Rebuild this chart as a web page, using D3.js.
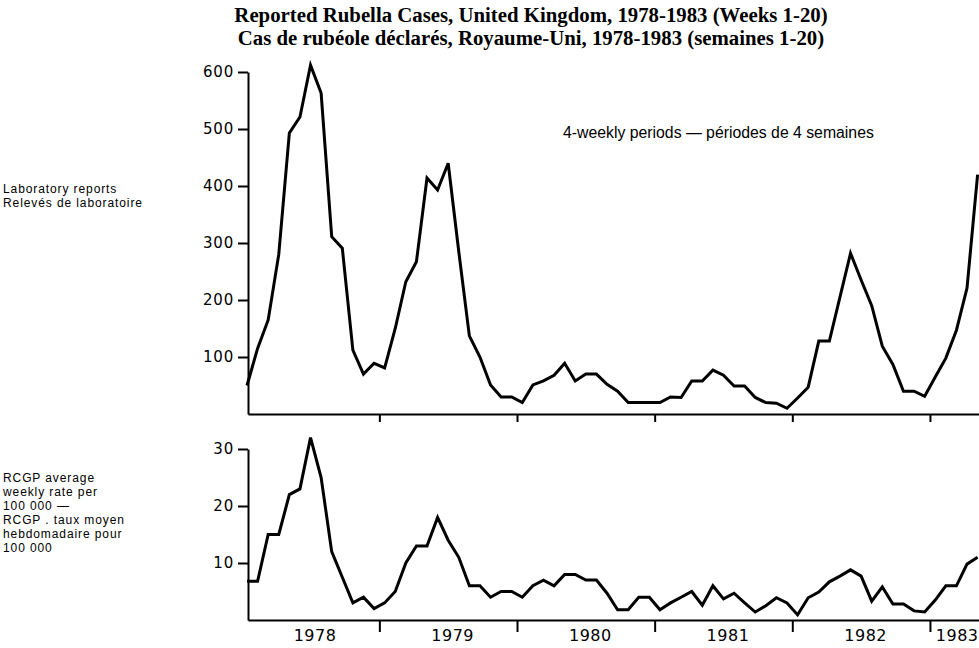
<!DOCTYPE html>
<html>
<head>
<meta charset="utf-8">
<script src="https://cdn.jsdelivr.net/npm/d3@7"></script>
<style>
  body { margin: 0; background: #fff; }
  svg { display: block; }
  .title { font-family: "Liberation Serif", "Times New Roman", serif; font-weight: bold; font-size: 20.8px; }
  .side { font-family: "Liberation Sans", Arial, sans-serif; font-size: 12px; letter-spacing: 0.9px; }
  .note { font-family: "Liberation Sans", Arial, sans-serif; font-size: 15.8px; }
  .axis text { font-family: "DejaVu Sans", sans-serif; font-size: 15px; letter-spacing: 0.8px; fill: #000; }
  .years text { font-size: 16px; letter-spacing: 0.5px; }
</style>
</head>
<body>
<script>
// 4-weekly periods, 13 a year, 1978 period 1 .. 1983 period 5
const years = ["1978", "1979", "1980", "1981", "1982", "1983"];
const periodsPerYear = [13, 13, 13, 13, 13, 5];

// laboratory reports
const labReports = [50, 115, 165, 280, 493, 521, 612, 563, 311, 291, 112, 70, 89,
  81, 150, 232, 267, 414, 393, 440, 285, 137, 100, 51, 30, 30,
  20, 51, 58, 68, 89, 58, 70, 70, 52, 40, 20, 20, 20,
  20, 30, 29, 58, 58, 77, 68, 49, 49, 29, 20, 19, 10,
  28, 47, 128, 128, 205, 282, 235, 190, 119, 87, 40, 40, 31,
  65, 98, 147, 221, 420];

// RCGP average weekly rate per 100 000
const rcgpRate = [6.8, 6.8, 15, 15, 22, 23, 32, 25, 12, 7.5, 3, 4, 2,
  3, 5, 10, 13, 13, 18, 14, 11, 6, 6, 4, 5, 5,
  4, 6, 7, 6, 8, 8, 7, 7, 4.7, 1.8, 1.8, 4, 4,
  1.8, 3, 4, 5, 2.6, 6, 3.7, 4.7, 3, 1.4, 2.5, 3.9, 3, 0.9,
  3.9, 4.9, 6.7, 7.7, 8.8, 7.7, 3.3, 5.8, 2.8, 2.8, 1.6, 1.4,
  3.5, 6, 6, 9.8, 11];

const labTicks = [100, 200, 300, 400, 500, 600];
const rcgpTicks = [10, 20, 30];

const width = 979, height = 648;
const svg = d3.select("body").append("svg")
    .attr("width", width)
    .attr("height", height);

// period index -> x
const x = d3.scaleLinear().domain([0, labReports.length - 1]).range([247, 977.6]);
const xAxisScale = x.copy().domain([x.invert(248), x.invert(979)]).range([248, 979]);

// year boundaries and centres in period units
let start = 0;
const boundaries = [], centres = [];
periodsPerYear.forEach((n, i) => {
    centres.push(start + (n - 1) / 2);
    start += n;
    if (i < periodsPerYear.length - 1) boundaries.push(start - 0.5);
});

const yTop = d3.scaleLinear().domain([0, 600]).range([414, 72]);
const yBot = d3.scaleLinear().domain([0, 30]).range([620, 449]);

// titles
svg.append("text").attr("class", "title")
    .attr("x", 531).attr("y", 22).attr("text-anchor", "middle")
    .text("Reported Rubella Cases, United Kingdom, 1978-1983 (Weeks 1-20)");
svg.append("text").attr("class", "title")
    .attr("x", 531).attr("y", 45).attr("text-anchor", "middle")
    .text("Cas de rubéole déclarés, Royaume-Uni, 1978-1983 (semaines 1-20)");

// side labels
const sideTop = ["Laboratory reports", "Relevés de laboratoire"];
const sideBot = ["RCGP average", "weekly rate per", "100 000 \u2014", "RCGP . taux moyen", "hebdomadaire pour", "100 000"];
svg.append("text").attr("class", "side")
    .selectAll("tspan").data(sideTop).join("tspan")
    .attr("x", 3).attr("y", (d, i) => 193 + i * 14).text(d => d);
svg.append("text").attr("class", "side")
    .selectAll("tspan").data(sideBot).join("tspan")
    .attr("x", 3).attr("y", (d, i) => 482 + i * 14).text(d => d);

svg.append("text").attr("class", "note")
    .attr("x", 563).attr("y", 138)
    .text("4-weekly periods \u2014 périodes de 4 semaines");

function styleAxis(g) {
    g.selectAll("path, line").attr("stroke", "#000").attr("stroke-width", 2);
}

// top panel axes
svg.append("g").attr("class", "axis")
    .attr("transform", "translate(248,0)")
    .call(d3.axisLeft(yTop).tickValues(labTicks).tickSize(10).tickSizeOuter(0).tickPadding(4))
    .call(styleAxis);
svg.append("g").attr("class", "axis")
    .attr("transform", "translate(0,414)")
    .call(d3.axisBottom(xAxisScale).tickValues(boundaries).tickSize(8).tickSizeOuter(0).tickFormat(""))
    .call(styleAxis);

// bottom panel axes
svg.append("g").attr("class", "axis")
    .attr("transform", "translate(248,0)")
    .call(d3.axisLeft(yBot).tickValues(rcgpTicks).tickSize(10).tickSizeOuter(0).tickPadding(4))
    .call(styleAxis);
svg.append("g").attr("class", "axis")
    .attr("transform", "translate(0,620)")
    .call(d3.axisBottom(xAxisScale).tickValues(boundaries).tickSize(12).tickSizeOuter(0).tickFormat(""))
    .call(styleAxis);
const yearAxis = svg.append("g").attr("class", "axis years")
    .attr("transform", "translate(4,620)")
    .call(d3.axisBottom(xAxisScale).tickValues(centres).tickSize(0).tickPadding(10)
        .tickFormat((d, i) => years[i]))
    .call(g => g.select(".domain").remove());

// keep the last year label inside the page
yearAxis.selectAll(".tick").each(function (d) {
    const t = d3.select(this).select("text");
    const w = t.node().getComputedTextLength();
    const cx = xAxisScale(d) + 4;
    if (cx + w / 2 > width - 1) t.attr("x", width - 1 - w / 2 - cx);
});

// lines
const lineTop = d3.line().x((d, i) => x(i)).y(d => yTop(d));
const lineBot = d3.line().x((d, i) => x(i)).y(d => yBot(d));

svg.append("path").datum(labReports)
    .attr("d", lineTop)
    .attr("fill", "none").attr("stroke", "#000").attr("stroke-width", 3);
svg.append("path").datum(rcgpRate)
    .attr("d", lineBot)
    .attr("fill", "none").attr("stroke", "#000").attr("stroke-width", 3);
</script>
</body>
</html>
